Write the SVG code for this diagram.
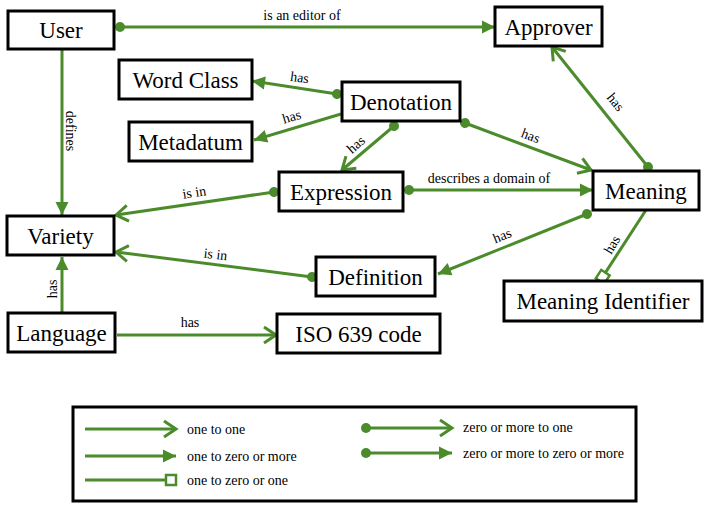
<svg xmlns="http://www.w3.org/2000/svg" width="710" height="512" viewBox="0 0 710 512">
<style>
text{font-family:'Liberation Serif','Times New Roman','DejaVu Serif',serif;fill:#000}
.box{fill:#fff;stroke:#000;stroke-width:3}
.nt{font-size:23px;text-anchor:middle}
.el{font-size:14px;text-anchor:middle}
.lg{font-size:14px}
.c{stroke:#4b8b2b;stroke-width:3;fill:none}
.oo{marker-end:url(#open)}
.om{marker-end:url(#filled)}
.zo{marker-start:url(#dot);marker-end:url(#open)}
.zm{marker-start:url(#dot);marker-end:url(#filled)}
.oz{marker-end:url(#sq)}
</style>
<defs>
<marker id="open" markerUnits="userSpaceOnUse" orient="auto" overflow="visible" markerWidth="1" markerHeight="1" refX="0" refY="0"><path d="M-12,-8 L0,0 L-12,8" fill="none" stroke="#4b8b2b" stroke-width="3"/></marker>
<marker id="filled" markerUnits="userSpaceOnUse" orient="auto" overflow="visible" markerWidth="1" markerHeight="1" refX="0" refY="0"><path d="M-13,-6.5 L0,0 L-13,6.5 Z" fill="#4b8b2b"/></marker>
<marker id="dot" markerUnits="userSpaceOnUse" orient="auto" overflow="visible" markerWidth="1" markerHeight="1" refX="0" refY="0"><circle r="5" fill="#4b8b2b"/></marker>
<marker id="sq" markerUnits="userSpaceOnUse" orient="auto" overflow="visible" markerWidth="1" markerHeight="1" refX="0" refY="0"><rect x="-10" y="-5" width="10" height="10" fill="#fff" stroke="#4b8b2b" stroke-width="2.5"/></marker>
</defs>

<g id="connectors">
<line class="c zm" x1="120" y1="27" x2="495" y2="27"/>
<text class="el" x="302" y="20">is an editor of</text>
<line class="c om" x1="62" y1="49" x2="62" y2="215"/>
<text class="el" transform="translate(66,131) rotate(90)">defines</text>
<line class="c zm" x1="337" y1="94" x2="252" y2="81"/>
<text class="el" transform="translate(299,82) rotate(8)">has</text>
<line class="c om" x1="341" y1="114" x2="254" y2="140"/>
<text class="el" transform="translate(293,121) rotate(-16.6)">has</text>
<line class="c zo" x1="394" y1="126" x2="342" y2="170"/>
<text class="el" transform="translate(359,148) rotate(-42)">has</text>
<line class="c zo" x1="465" y1="123" x2="591" y2="170"/>
<text class="el" transform="translate(529,140) rotate(21)">has</text>
<line class="c zo" x1="648" y1="167" x2="552" y2="47"/>
<text class="el" transform="translate(612,105) rotate(51)">has</text>
<line class="c zm" x1="409" y1="190" x2="593" y2="190"/>
<text class="el" x="489" y="183">describes a domain of</text>
<line class="c zo" x1="274" y1="192" x2="116" y2="215"/>
<text class="el" transform="translate(195,197) rotate(-8.6)">is in</text>
<line class="c zm" x1="587" y1="214" x2="438" y2="274"/>
<text class="el" transform="translate(504,240) rotate(-22)">has</text>
<line class="c zo" x1="312" y1="277" x2="116" y2="252"/>
<text class="el" transform="translate(215,259) rotate(7)">is in</text>
<line class="c oz" x1="646" y1="210" x2="600" y2="281"/>
<text class="el" transform="translate(616,247) rotate(-59.5)">has</text>
<line class="c om" x1="62" y1="313" x2="62" y2="257"/>
<text class="el" transform="translate(57,289) rotate(-90)">has</text>
<line class="c oo" x1="117" y1="335" x2="276" y2="335"/>
<text class="el" x="190" y="327">has</text>
</g>

<g id="user"><rect class="box" x="8" y="11" width="106" height="38"/><text class="nt" x="61" y="38">User</text></g>
<g id="approver"><rect class="box" x="495" y="7" width="107" height="39"/><text class="nt" x="548.5" y="34.5">Approver</text></g>
<g id="word-class"><rect class="box" x="119" y="60" width="133" height="39"/><text class="nt" x="185.5" y="87.5">Word Class</text></g>
<g id="denotation"><rect class="box" x="342" y="82" width="118" height="39"/><text class="nt" x="401" y="109.5">Denotation</text></g>
<g id="metadatum"><rect class="box" x="129" y="122" width="123" height="39"/><text class="nt" x="190.5" y="149.5">Metadatum</text></g>
<g id="expression"><rect class="box" x="279" y="172" width="124" height="39"/><text class="nt" x="341" y="199.5">Expression</text></g>
<g id="meaning"><rect class="box" x="593" y="171" width="106" height="39"/><text class="nt" x="646" y="198.5">Meaning</text></g>
<g id="variety"><rect class="box" x="7" y="216" width="107" height="39"/><text class="nt" x="60.5" y="243.5">Variety</text></g>
<g id="definition"><rect class="box" x="316" y="257" width="119" height="39"/><text class="nt" x="375.5" y="284.5">Definition</text></g>
<g id="meaning-identifier"><rect class="box" x="504" y="281" width="198" height="40"/><text class="nt" x="603" y="309">Meaning Identifier</text></g>
<g id="language"><rect class="box" x="8" y="313" width="107" height="39"/><text class="nt" x="61.5" y="340.5">Language</text></g>
<g id="iso-639-code"><rect class="box" x="277" y="314" width="163" height="39"/><text class="nt" x="358.5" y="341.5">ISO 639 code</text></g>

<g id="legend">
<rect class="box" x="73" y="407" width="563" height="94"/>
<line class="c oo" x1="85" y1="429" x2="176" y2="429"/>
<text class="lg" x="187" y="434">one to one</text>
<line class="c om" x1="85" y1="456" x2="176" y2="456"/>
<text class="lg" x="187" y="461">one to zero or more</text>
<line class="c oz" x1="85" y1="480" x2="176" y2="480"/>
<text class="lg" x="187" y="485">one to zero or one</text>
<line class="c zo" x1="366" y1="428" x2="452" y2="428"/>
<text class="lg" x="463" y="432">zero or more to one</text>
<line class="c zm" x1="366" y1="453" x2="452" y2="453"/>
<text class="lg" x="463" y="458">zero or more to zero or more</text>
</g>
</svg>
